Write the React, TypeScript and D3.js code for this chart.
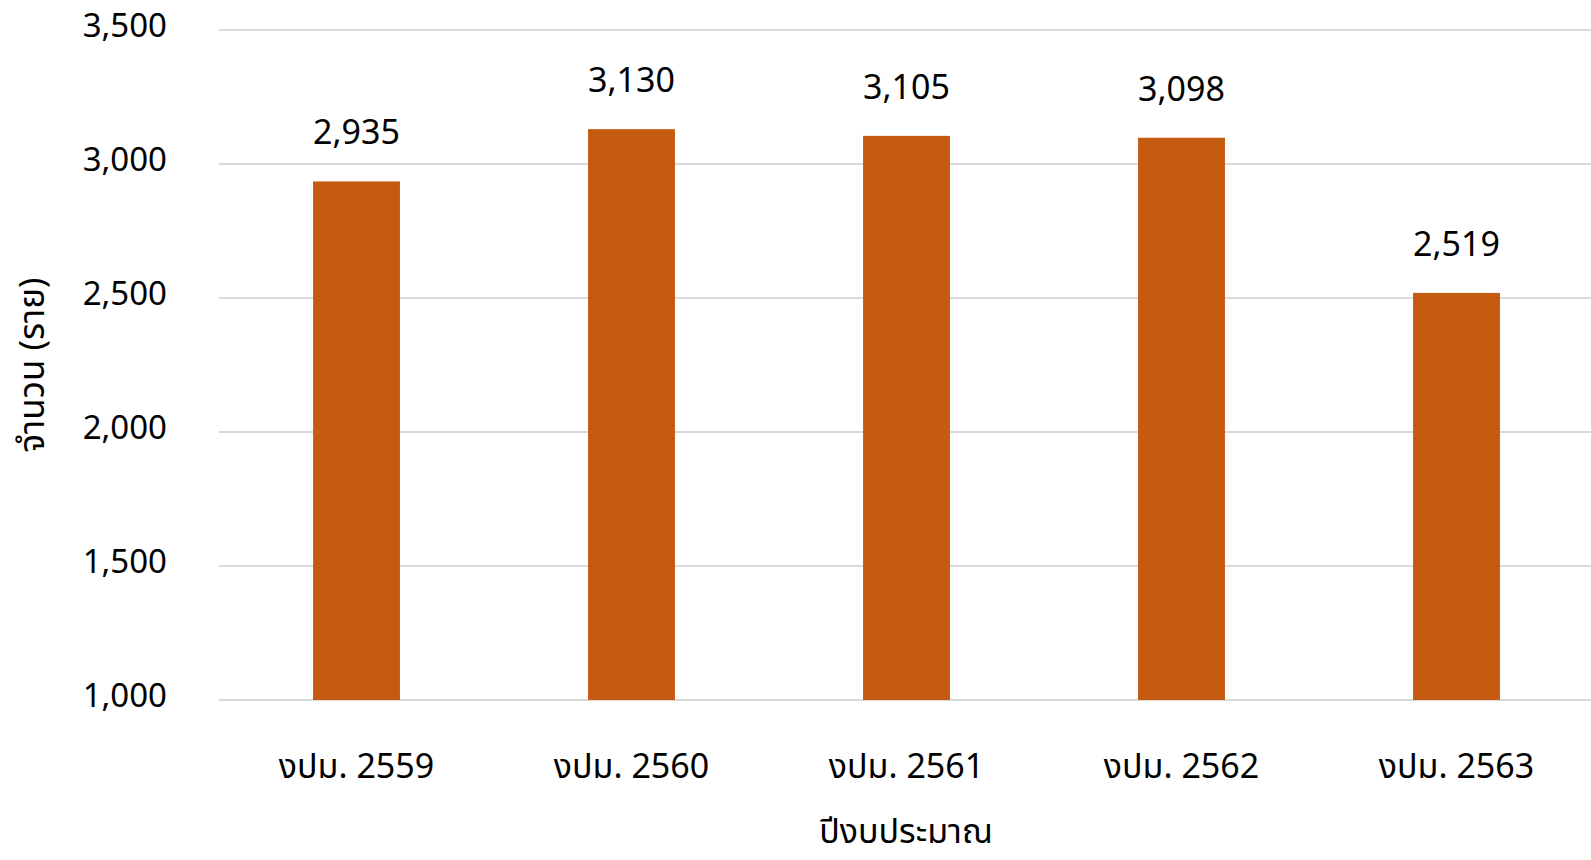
import React from "react";
import * as d3 from "d3";

const categories = ["งปม. 2559", "งปม. 2560", "งปม. 2561", "งปม. 2562", "งปม. 2563"];
const values = [2935, 3130, 3105, 3098, 2519];
const yTicks = [1000, 1500, 2000, 2500, 3000, 3500];
const xTitle = "ปีงบประมาณ";
const yTitle = "จำนวน (ราย)";

const W = 1591;
const H = 860;
const FONT = "'Noto Sans Thai', 'Noto Sans', 'DejaVu Sans', sans-serif";

export default function App() {
  const x = d3
    .scaleBand<string>()
    .domain(categories)
    .range([219, 1594])
    .paddingInner(0.684)
    .paddingOuter(0.342);
  const y = d3.scaleLinear().domain([1000, 3500]).range([700, 30]);
  const fmt = d3.format(",");

  return (
    <svg
      width={W}
      height={H}
      style={{ position: "absolute", left: 0, top: 0, background: "#fff" }}
      fontFamily={FONT}
    >
      <rect x={0} y={0} width={W} height={H} fill="#fff" />
      {yTicks.map((t) => (
        <g key={t}>
          <line x1={219} x2={W} y1={y(t)} y2={y(t)} stroke="#D9D9D9" strokeWidth={2} />
          <text x={167} y={y(t) + 7} textAnchor="end" fontSize={33} fill="#000">
            {fmt(t)}
          </text>
        </g>
      ))}
      {categories.map((c, i) => {
        const bx = x(c)!;
        const cx = bx + x.bandwidth() / 2;
        return (
          <g key={c}>
            <rect
              x={bx}
              y={y(values[i])}
              width={x.bandwidth()}
              height={y(1000) - y(values[i])}
              fill="#C55A11"
            />
            <text x={cx} y={y(values[i]) - 37} textAnchor="middle" fontSize={34} fill="#000">
              {fmt(values[i])}
            </text>
            <text x={cx} y={778} textAnchor="middle" fontSize={34} fill="#000">
              {c}
            </text>
          </g>
        );
      })}
      <text x={906} y={843} textAnchor="middle" fontSize={34} fill="#000">
        {xTitle}
      </text>
      <text
        transform={`translate(44, 365) rotate(-90)`}
        textAnchor="middle"
        fontSize={35}
        fill="#000"
      >
        {yTitle}
      </text>
    </svg>
  );
}
